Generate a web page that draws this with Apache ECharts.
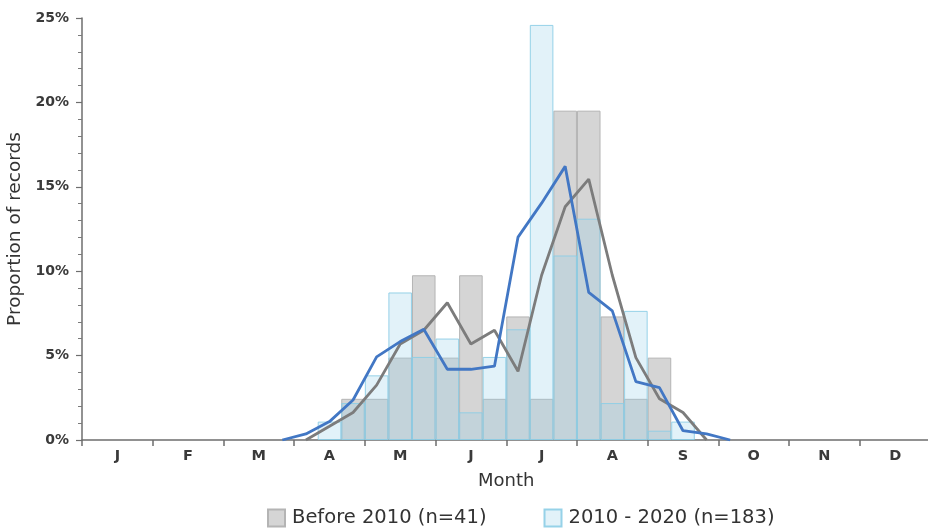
<!DOCTYPE html>
<html>
<head>
<meta charset="utf-8">
<script src="https://cdn.jsdelivr.net/npm/echarts@6/dist/echarts.min.js"></script>
<style>
  html, body { margin: 0; padding: 0; background: #ffffff; }
  #chart { width: 928px; height: 529px; }
</style>
</head>
<body>
<div id="chart"></div>
<script>
// Month letters shown under the axis, one per month
const monthLetters = ['J', 'F', 'M', 'A', 'M', 'J', 'J', 'A', 'S', 'O', 'N', 'D'];
const monthNames = ['Jan', 'Feb', 'Mar', 'Apr', 'May', 'Jun', 'Jul', 'Aug', 'Sep', 'Oct', 'Nov', 'Dec'];

// Each month is split into three ~10-day periods -> 36 bins
const periods = [];
monthNames.forEach(m => { for (let t = 1; t <= 3; t++) periods.push(m + ' ' + t); });

// Share of records per 10-day period (%), Before 2010 (n=41)
const before2010 = [
  null, null, null,  null, null, null,  null, null, null,
  null, null, 2.44,  2.44, 4.88, 9.76,  4.88, 9.76, 2.44,
  7.32, 2.44, 19.51, 19.51, 7.32, 2.44, 4.88, null, null,
  null, null, null,  null, null, null,  null, null, null
];

// Share of records per 10-day period (%), 2010 - 2020 (n=183)
const recent = [
  null, null, null,  null, null, null,  null, null, null,
  null, 1.09, 2.19,  3.83, 8.74, 4.92,  6.01, 1.64, 4.92,
  6.56, 24.59, 10.93, 13.11, 2.19, 7.65, 0.55, 1.09, null,
  null, null, null,  null, null, null,  null, null, null
];

// Three-period running mean (%), Before 2010
const before2010Trend = [
  null, null, null,  null, null, null,  null, null, null,
  0, 0.81, 1.63,  3.25, 5.69, 6.50,  8.13, 5.69, 6.50,
  4.07, 9.76, 13.82, 15.45, 9.76, 4.88, 2.44, 1.63, 0,
  null, null, null,  null, null, null,  null, null, null
];

// Three-period running mean (%), 2010 - 2020
const recentTrend = [
  null, null, null,  null, null, null,  null, null, 0,
  0.36, 1.09, 2.37,  4.92, 5.83, 6.56,  4.19, 4.19, 4.37,
  12.02, 14.03, 16.21, 8.74, 7.65, 3.46, 3.10, 0.55, 0.36,
  0, null, null,  null, null, null,  null, null, null
];

const yTicks = [0, 5, 10, 15, 20, 25];

const FONT = 'DejaVu Sans';
const chart = echarts.init(document.getElementById('chart'), null, { renderer: 'canvas' });

chart.setOption({
  animation: false,
  backgroundColor: '#ffffff',
  textStyle: { fontFamily: FONT },
  grid: { left: 82, width: 848.5, top: 18, bottom: 89, containLabel: false, outerBoundsMode: 'none' },
  legend: {
    left: 267,
    top: 508,
    padding: 0,
    itemWidth: 17,
    itemHeight: 17,
    itemGap: 57,
    icon: 'rect',
    textStyle: { fontFamily: FONT, fontSize: 19.5, color: '#333333', padding: [0, 0, 0, 2] },
    data: ['Before 2010 (n=41)', '2010 - 2020 (n=183)']
  },
  xAxis: {
    type: 'category',
    data: periods,
    boundaryGap: true,
    name: 'Month',
    nameLocation: 'middle',
    nameGap: 32,
    nameTextStyle: { fontFamily: FONT, fontSize: 18, color: '#333333' },
    axisLine: { lineStyle: { color: '#6e6e6e', width: 1.5 } },
    axisTick: {
      show: true,
      length: 6,
      interval: (i) => i % 3 === 0,
      lineStyle: { color: '#6e6e6e', width: 1.5 }
    },
    axisLabel: {
      interval: (i) => i % 3 === 1,
      formatter: (v, i) => monthLetters[Math.floor(i / 3)],
      margin: 9,
      fontFamily: FONT,
      fontSize: 14.5,
      fontWeight: 'bold',
      color: '#3a3a3a'
    },
    splitLine: { show: false }
  },
  yAxis: {
    type: 'value',
    min: yTicks[0],
    max: yTicks[yTicks.length - 1],
    interval: 5,
    name: 'Proportion of records',
    nameLocation: 'middle',
    nameGap: 44,
    nameTextStyle: { fontFamily: FONT, fontSize: 18.5, color: '#333333' },
    axisLine: { show: true, lineStyle: { color: '#6e6e6e', width: 1.5 } },
    axisTick: { show: true, length: 6, lineStyle: { color: '#6e6e6e', width: 1.2 } },
    minorTick: { show: true, splitNumber: 5, length: 4, lineStyle: { color: '#7a7a7a', width: 1 } },
    axisLabel: {
      formatter: '{value}%',
      margin: 13,
      fontFamily: FONT,
      fontSize: 14,
      fontWeight: 'bold',
      color: '#3a3a3a'
    },
    splitLine: { show: false }
  },
  series: [
    {
      name: 'Before 2010 (n=41)',
      type: 'bar',
      data: before2010,
      barWidth: '100%',
      barGap: '-100%',
      itemStyle: { color: '#d5d5d5', borderColor: '#b4b4b4', borderWidth: 1 },
      z: 2
    },
    {
      name: '2010 - 2020 (n=183)',
      type: 'bar',
      data: recent,
      barWidth: '100%',
      barGap: '-100%',
      itemStyle: { color: 'rgba(150, 210, 235, 0.28)', borderColor: 'rgba(140, 205, 230, 0.9)', borderWidth: 1 },
      z: 3
    },
    {
      name: 'Before 2010 trend',
      type: 'line',
      data: before2010Trend,
      symbol: 'none',
      lineStyle: { color: '#7c7c7c', width: 2.8 },
      z: 4
    },
    {
      name: '2010 - 2020 trend',
      type: 'line',
      data: recentTrend,
      symbol: 'none',
      lineStyle: { color: '#4277c4', width: 2.8 },
      z: 5
    }
  ]
});
</script>
</body>
</html>
